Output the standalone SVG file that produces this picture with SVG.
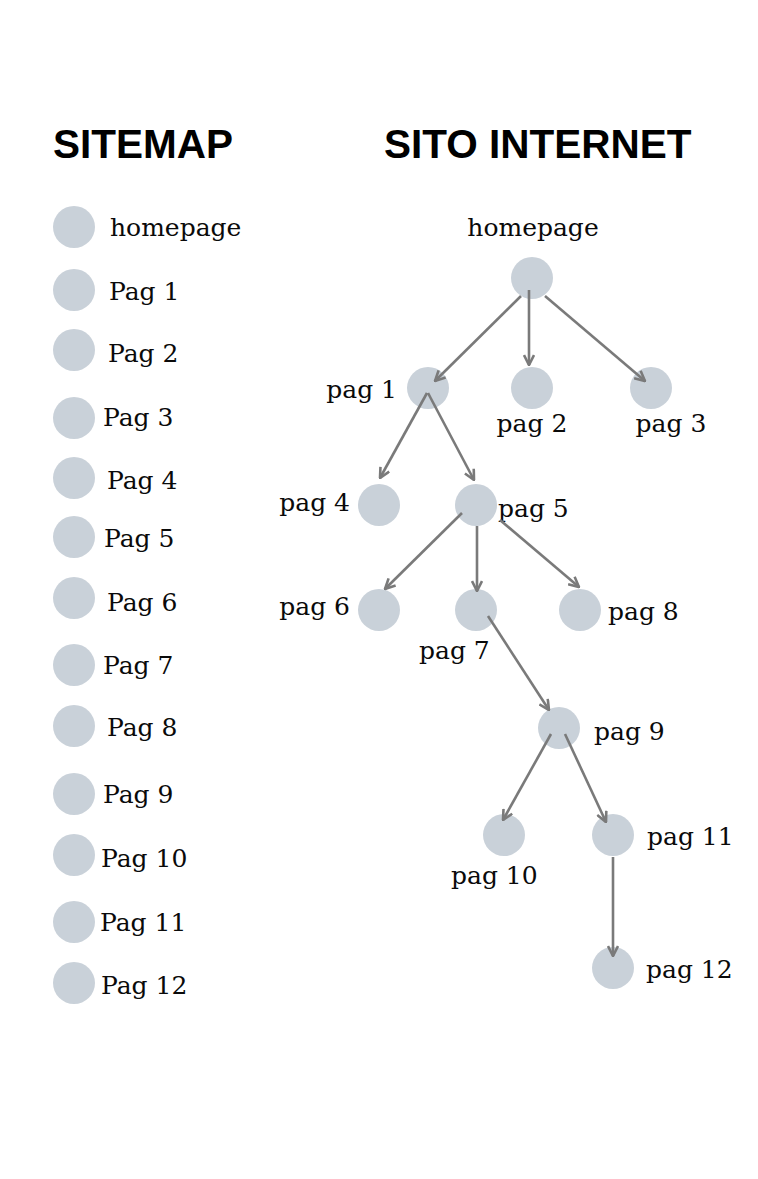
<svg xmlns="http://www.w3.org/2000/svg" width="758" height="1179" viewBox="0 0 758 1179">
<style>
.bg{fill:#ffffff}
.dot{fill:#c9d1d9}
.t{font-family:"DejaVu Serif","Liberation Serif",serif;font-size:25px;fill:#0a0a0a}
.h{font-family:"Liberation Sans",Arial,sans-serif;font-size:40.5px;font-weight:bold;fill:#000000}
.e{stroke:#7a7a7a;stroke-width:2.6;fill:none;marker-end:url(#ah)}
</style>
<defs>
<marker id="ah" viewBox="0 0 12 12" refX="11" refY="6" markerWidth="12" markerHeight="12" markerUnits="userSpaceOnUse" orient="auto">
<path d="M1,1 L11,6 L1,11" fill="none" stroke="#7a7a7a" stroke-width="2.6"/>
</marker>
</defs>
<rect class="bg" x="0" y="0" width="758" height="1179"/>
<text class="h" x="53" y="158">SITEMAP</text>
<text class="h" x="384" y="158">SITO INTERNET</text>
<g id="sitemap">
<g id="s-home"><circle class="dot" cx="74" cy="227" r="21"/><text class="t" x="110" y="236">homepage</text></g>
<g id="s-1"><circle class="dot" cx="74" cy="290" r="21"/><text class="t" x="109" y="300">Pag 1</text></g>
<g id="s-2"><circle class="dot" cx="74" cy="350" r="21"/><text class="t" x="108" y="362">Pag 2</text></g>
<g id="s-3"><circle class="dot" cx="74" cy="418" r="21"/><text class="t" x="103" y="426">Pag 3</text></g>
<g id="s-4"><circle class="dot" cx="74" cy="478" r="21"/><text class="t" x="107" y="489">Pag 4</text></g>
<g id="s-5"><circle class="dot" cx="74" cy="537" r="21"/><text class="t" x="104" y="547">Pag 5</text></g>
<g id="s-6"><circle class="dot" cx="74" cy="598" r="21"/><text class="t" x="107" y="611">Pag 6</text></g>
<g id="s-7"><circle class="dot" cx="74" cy="665" r="21"/><text class="t" x="103" y="674">Pag 7</text></g>
<g id="s-8"><circle class="dot" cx="74" cy="726" r="21"/><text class="t" x="107" y="736">Pag 8</text></g>
<g id="s-9"><circle class="dot" cx="74" cy="794" r="21"/><text class="t" x="103" y="803">Pag 9</text></g>
<g id="s-10"><circle class="dot" cx="74" cy="855" r="21"/><text class="t" x="101" y="867">Pag 10</text></g>
<g id="s-11"><circle class="dot" cx="74" cy="922" r="21"/><text class="t" x="100" y="931">Pag 11</text></g>
<g id="s-12"><circle class="dot" cx="74" cy="983" r="21"/><text class="t" x="101" y="994">Pag 12</text></g>
</g>
<g id="n-home"><circle class="dot" cx="532" cy="278" r="21"/><text class="t" x="533" y="236" text-anchor="middle">homepage</text></g>
<g id="n-1"><circle class="dot" cx="428" cy="388" r="21"/><text class="t" x="397" y="398" text-anchor="end">pag 1</text></g>
<g id="n-2"><circle class="dot" cx="532" cy="388" r="21"/><text class="t" x="532" y="432" text-anchor="middle">pag 2</text></g>
<g id="n-3"><circle class="dot" cx="651" cy="388" r="21"/><text class="t" x="671" y="432" text-anchor="middle">pag 3</text></g>
<g id="n-4"><circle class="dot" cx="379" cy="505" r="21"/><text class="t" x="350" y="511" text-anchor="end">pag 4</text></g>
<g id="n-5"><circle class="dot" cx="476" cy="505" r="21"/><text class="t" x="498" y="517">pag 5</text></g>
<g id="n-6"><circle class="dot" cx="379" cy="610" r="21"/><text class="t" x="350" y="615" text-anchor="end">pag 6</text></g>
<g id="n-7"><circle class="dot" cx="476" cy="610" r="21"/><text class="t" x="419" y="659">pag 7</text></g>
<g id="n-8"><circle class="dot" cx="580" cy="610" r="21"/><text class="t" x="608" y="620">pag 8</text></g>
<g id="n-9"><circle class="dot" cx="559" cy="728" r="21"/><text class="t" x="594" y="740">pag 9</text></g>
<g id="n-10"><circle class="dot" cx="504" cy="835" r="21"/><text class="t" x="451" y="884">pag 10</text></g>
<g id="n-11"><circle class="dot" cx="613" cy="835" r="21"/><text class="t" x="647" y="845">pag 11</text></g>
<g id="n-12"><circle class="dot" cx="613" cy="968" r="21"/><text class="t" x="646" y="978">pag 12</text></g>
<g id="connectors">
<line class="e" x1="521" y1="296" x2="435" y2="381"/>
<line class="e" x1="529" y1="290" x2="529" y2="365"/>
<line class="e" x1="545" y1="296" x2="645" y2="381"/>
<line class="e" x1="427" y1="393" x2="380" y2="478"/>
<line class="e" x1="428" y1="393" x2="474" y2="480"/>
<line class="e" x1="462" y1="513" x2="385" y2="589"/>
<line class="e" x1="477" y1="526" x2="477" y2="591"/>
<line class="e" x1="500" y1="520" x2="579" y2="587"/>
<line class="e" x1="488" y1="616" x2="549" y2="710"/>
<line class="e" x1="551" y1="734" x2="503" y2="820"/>
<line class="e" x1="565" y1="734" x2="606" y2="822"/>
<line class="e" x1="613" y1="857" x2="613" y2="956"/>
</g>
</svg>
